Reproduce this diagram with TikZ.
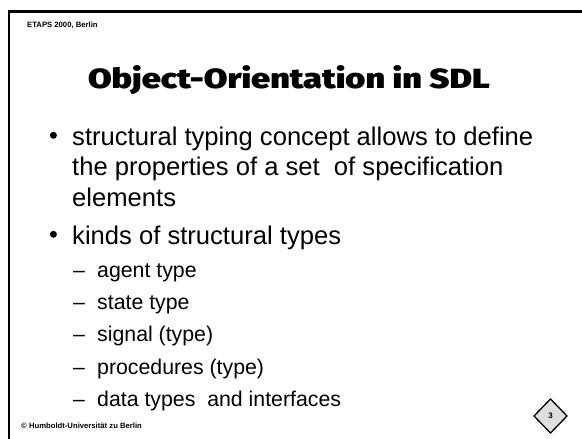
\documentclass[tikz,border=0pt]{standalone}
\usepackage{graphicx}
\usepackage{fontspec}
\setmainfont{Liberation Sans}
\newfontfamily\titlefont{Fira Sans Black}
\begin{document}
\begin{tikzpicture}[x=1pt,y=-1pt,
  line/.style={anchor=base west,inner sep=0pt,font=\fontsize{25.6}{30}\selectfont},
  subline/.style={anchor=base west,inner sep=0pt,font=\fontsize{21.3}{26}\selectfont},
  small/.style={anchor=base west,inner sep=0pt,font=\fontsize{7.7}{9}\selectfont\bfseries},
  dot/.style={circle,fill=black,inner sep=0pt,minimum size=7pt}]
\useasboundingbox (0,0) rectangle (582,439);
\fill[white] (0,0) rectangle (582,439);

% slide frame: left and top edges
\draw[line width=2.4pt] (9.2,439) -- (9.2,11.3) -- (582,11.3);

% header and footer
\node[small] (hdr) at (27,27.3) {ETAPS 2000, Berlin};
\node[small] (ftr) at (21,428) {\textcopyright\ Humboldt-Universität zu Berlin};

% title
\node[anchor=base,inner sep=0pt] (title) at (289,88)
  {\resizebox{402pt}{23pt}{\titlefont Object-Orientation in SDL}};

% first bullet
\node[dot] (b1) at (53.4,135.3) {};
\node[line] (l1a) at (72,145) {structural typing concept allows to define};
\node[line] (l1b) at (72,175.5) {the properties of a set\ \ of specification};
\node[line] (l1c) at (72,206) {elements};

% second bullet
\node[dot] (b2) at (53.4,234.3) {};
\node[line] (l2a) at (72,244) {kinds of structural types};

% sub items
\foreach \y/\t [count=\i] in {277/agent type, 309.4/state type, 341.8/signal (type),
    374.2/procedures (type), 406.6/data types\ \ and interfaces} {
  \node[subline] (d\i) at (73,\y) {--};
  \node[subline] (s\i) at (97,\y) {\t};
}

% page number
\coordinate (pc) at (550.5,416);
\draw[line width=1.3pt,fill=black!13] (534,416) -- (550.5,399) -- (567,416) -- (550.5,433) -- cycle;
\node[inner sep=0pt,font=\fontsize{8}{9}\selectfont\bfseries] (pg) at (pc) {3};
\end{tikzpicture}
\end{document}
